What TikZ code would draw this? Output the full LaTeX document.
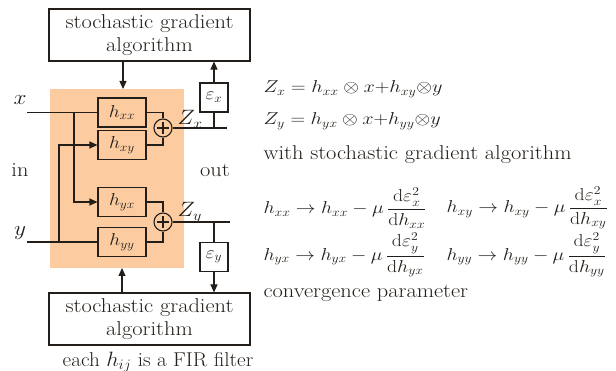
\documentclass[tikz,border=0pt]{standalone}
\usepackage{amsmath}
\usepackage{graphicx}
\usetikzlibrary{arrows.meta}
\definecolor{orng}{RGB}{252,204,160}
\definecolor{ink}{RGB}{35,30,25}
\newcommand{\sw}[1]{\scalebox{1.12}[1]{#1}}
\newcommand{\swe}[1]{\scalebox{1.17}[1]{#1}}
\newcommand{\swf}[1]{\scalebox{1.14}[1]{#1}}
\begin{document}
\begin{tikzpicture}[x=1pt,y=-1pt,line width=1.1pt,
  every node/.style={text=ink},
  base/.style={draw=ink},
  filt/.style={base,rectangle,minimum width=48pt,minimum height=29pt,inner sep=0pt,font=\fontsize{18}{20}\selectfont},
  algo/.style={base,rectangle,minimum width=201pt,minimum height=52pt,align=center,font=\fontsize{20}{23}\selectfont},
  err/.style={base,rectangle,fill=white,minimum width=28pt,minimum height=29pt,inner sep=0pt,font=\fontsize{18}{20}\selectfont},
  sum/.style={base,circle,minimum size=18pt,inner sep=0pt},
  lbl/.style={font=\fontsize{20}{23}\selectfont,inner sep=0pt},
  eqn/.style={font=\fontsize{18.5}{22}\selectfont,inner sep=0pt,anchor=base west},
  feq/.style={font=\fontsize{17}{20}\selectfont,inner sep=0pt,anchor=west},
  arr/.style={draw=ink,-{Triangle[length=8pt,width=7pt]}},
  wire/.style={draw=ink}]
\useasboundingbox (0,0) rectangle (616,371);
% orange area
\fill[orng] (50,89) rectangle (184,268);
\coordinate (otop) at (123,89);
\coordinate (obot) at (122,268);
% algorithm boxes
\node[algo] (top) at (149.5,35) {\sw{stochastic gradient}\\\sw{algorithm}};
\node[algo] (bot) at (149.5,319) {\sw{stochastic gradient}\\\sw{algorithm}};
% filters
\node[filt] (hxx) at (122,112.5) {\sw{$h_{xx}$}};
\node[filt] (hxy) at (122,145) {\sw{$h_{xy}$}};
\node[filt] (hyx) at (122,202) {\sw{$h_{yx}$}};
\node[filt] (hyy) at (122,242) {\sw{$h_{yy}$}};
% summers
\node[sum] (sx) at (163,128) {};
\node[sum] (sy) at (163,222) {};
\foreach \s in {sx,sy}{
  \draw[ink,line width=1.1pt] ([xshift=-6pt]\s.center) -- ([xshift=6pt]\s.center);
  \draw[ink,line width=1.1pt] ([yshift=-6pt]\s.center) -- ([yshift=6pt]\s.center);
}
% error boxes
\node[err] (ex) at (214,97.5) {\sw{$\varepsilon_x$}};
\node[err] (ey) at (214,257) {\sw{$\varepsilon_y$}};
% inputs
\node[lbl] (xin) at (20,100) {\sw{$x$}};
\node[lbl] (yin) at (20,233) {\sw{$y$}};
\coordinate (xs) at (27,112.5);
\coordinate (ys) at (27,242);
\draw[wire] (xs) -- (hxx.west);
\draw[wire] (ys) -- (hyy.west);
\draw[arr] (74,112.5) -- (74,202) -- (hyx.west);
\draw[arr] (59,242) -- (59,145) -- (hxy.west);
% to summers
\draw[wire] (hxx.east) -| (sx.north);
\draw[wire] (hxy.east) -| (sx.south);
\draw[wire] (hyx.east) -| (sy.north);
\draw[wire] (hyy.east) -| (sy.south);
% outputs
\coordinate (ox) at (227,128);
\coordinate (oy) at (230,222);
\draw[wire] (sx.east) -- (ox);
\draw[wire] (sy.east) -- (oy);
\draw[wire] (ex.south) -- (ex.south |- ox);
\draw[wire] (ey.north) -- (ey.north |- oy);
\draw[arr] (ex.north) -- (ex.north |- top.south);
\draw[arr] (ey.south) -- (ey.south |- bot.north);
\draw[arr] (top.south -| otop) -- (otop);
\draw[arr] (bot.north -| obot) -- (obot);
\node[lbl,anchor=base west] (zx) at (177,125) {\sw{$Z_x$}};
\node[lbl,anchor=base west] (zy) at (177,217) {\sw{$Z_y$}};
\node[lbl] (in) at (20,170) {\sw{in}};
\node[lbl] (out) at (215,170) {\sw{out}};
\node[lbl] (fir) at (158,362) {\scalebox{1.06}[1]{each $h_{ij}$ is a FIR filter}};
% right-hand text
\node[eqn] (e1) at (263,93) {\swe{$Z_x = h_{xx}\otimes x{+}h_{xy}{\otimes}y$}};
\node[eqn] (e2) at (263,125) {\swe{$Z_y = h_{yx}\otimes x{+}h_{yy}{\otimes}y$}};
\node[lbl,anchor=base west] (w) at (263,160) {\sw{with stochastic gradient algorithm}};
\node[feq] (f1) at (263,208) {\swf{$h_{xx}\rightarrow h_{xx}-\mu\,\dfrac{\mathrm{d}\varepsilon_x^2}{\mathrm{d}h_{xx}}$}};
\node[feq] (f2) at (446,208) {\swf{$h_{xy}\rightarrow h_{xy}-\mu\,\dfrac{\mathrm{d}\varepsilon_x^2}{\mathrm{d}h_{xy}}$}};
\node[feq] (f3) at (263,255) {\swf{$h_{yx}\rightarrow h_{yx}-\mu\,\dfrac{\mathrm{d}\varepsilon_y^2}{\mathrm{d}h_{yx}}$}};
\node[feq] (f4) at (446,255) {\swf{$h_{yy}\rightarrow h_{yy}-\mu\,\dfrac{\mathrm{d}\varepsilon_y^2}{\mathrm{d}h_{yy}}$}};
\node[lbl,anchor=base west] (cp) at (263,298) {\sw{convergence parameter}};
\end{tikzpicture}
\end{document}
